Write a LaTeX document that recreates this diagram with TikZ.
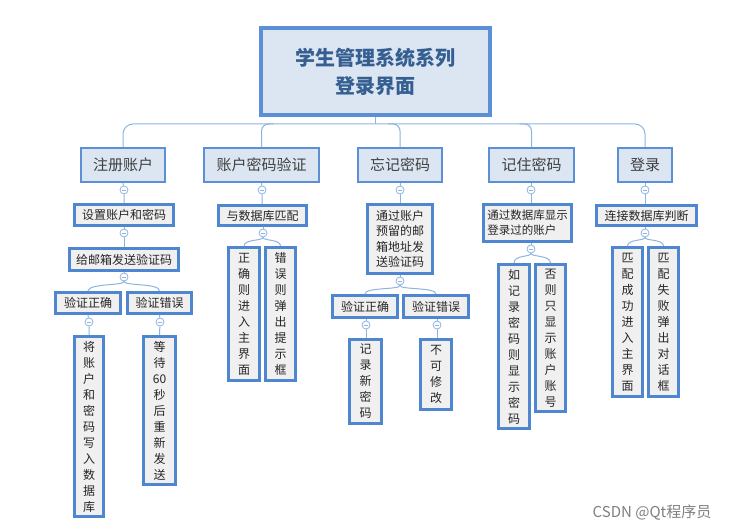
\documentclass[tikz,border=0pt]{standalone}
\usepackage{fontspec}
\setmainfont{Noto Sans CJK SC}
\usetikzlibrary{calc}
\definecolor{bdr}{HTML}{5B8FD6}
\definecolor{lfbdr}{HTML}{4F86D0}
\definecolor{lnk}{HTML}{8DB4E2}
\definecolor{hfill}{HTML}{DCE6F2}
\definecolor{lfill}{HTML}{F0F0F0}
\definecolor{ttext}{HTML}{365F91}
\definecolor{ktext}{HTML}{3F3F3F}
\tikzset{
  titlebox/.style={draw=bdr, line width=4pt, fill=hfill, inner sep=0pt, align=center,
    font=\fontsize{20}{28}\selectfont\bfseries, text=ttext},
  headbox/.style={draw=bdr, line width=2pt, fill=hfill, inner sep=0pt,
    font=\fontsize{15}{18}\selectfont, text=ktext},
  leafbox/.style={draw=lfbdr, line width=3pt, fill=lfill, inner sep=0pt, align=center,
    font=\fontsize{12}{16}\selectfont, text=black!85},
  knob/.style={circle, draw=lnk, line width=0.8pt, fill=white, minimum size=8pt, inner sep=0pt,
    path picture={\draw[lnk, line width=0.7pt] ($(path picture bounding box.center)+(-2.2pt,0)$) -- ($(path picture bounding box.center)+(2.2pt,0)$);}},
  link/.style={draw=lnk, line width=1pt},
}
\begin{document}
\begin{tikzpicture}[x=1pt, y=-1pt]
\useasboundingbox[fill=white] (0,0) rectangle (732,532);
% title
\node[titlebox, minimum width=229pt, minimum height=87pt] (title) at (375.5,71.5) {学生管理系统系列\\登录界面};
% level 1
\node[headbox, minimum width=84pt, minimum height=34pt] (zc) at (123,165) {注册账户};
\node[headbox, minimum width=115pt, minimum height=34pt] (zm) at (261.5,165) {账户密码验证};
\node[headbox, minimum width=84pt, minimum height=34pt] (wj) at (400,165) {忘记密码};
\node[headbox, minimum width=85pt, minimum height=34pt] (jz) at (531.5,165) {记住密码};
\node[headbox, minimum width=54pt, minimum height=34pt] (dl) at (645,165) {登录};
% top connectors
\coordinate (hub) at (375.5,124);
\draw[link] (title.south) -- (hub);
\draw[link, rounded corners=10pt] (zc.north) |- (hub) -| (dl.north);
\draw[link, rounded corners=7pt] (zm.north) |- ($(zm.north)+(12,-23)$);
\draw[link, rounded corners=7pt] (wj.north) |- ($(wj.north)+(-12,-23)$);
\draw[link, rounded corners=7pt] (jz.north) |- ($(jz.north)+(-12,-23)$);
% branch 1
\node[leafbox, minimum width=99pt, minimum height=21pt] (a1) at (124,215) {设置账户和密码};
\node[leafbox, minimum width=109pt, minimum height=22pt] (a2) at (124,259.5) {给邮箱发送验证码};
\node[leafbox, minimum width=65pt, minimum height=21pt] (a3) at (88,303) {验证正确};
\node[leafbox, minimum width=64pt, minimum height=21pt] (a4) at (159.5,303) {验证错误};
\node[leafbox, minimum width=29pt, minimum height=180pt] (a5) at (89,426.5) {将\\账\\户\\和\\密\\码\\写\\入\\数\\据\\库};
\node[leafbox, minimum width=32pt, minimum height=148pt] (a6) at (159.5,410.5) {等\\待\\60\\秒\\后\\重\\新\\发\\送};
\node[knob] (k1) at (124,190) {};
\node[knob] (k2) at (124,233) {};
\node[knob] (k3) at (124,277) {};
\node[knob] (k4) at (89,322) {};
\node[knob] (k5) at (160,322) {};
\draw[link] (zc.south) -- (k1) -- (a1.north);
\draw[link] (a1.south) -- (k2) -- (a2.north);
\draw[link] (a2.south) -- (k3);
\draw[link] (k3.south) .. controls (124,286) and (89,283) .. (a3.north);
\draw[link] (k3.south) .. controls (124,286) and (160,283) .. (a4.north);
\draw[link] (a3.south) -- (k4) -- (a5.north);
\draw[link] (a4.south) -- (k5) -- (a6.north);
% branch 2
\node[leafbox, minimum width=88pt, minimum height=20pt] (b1) at (262.5,215.5) {与数据库匹配};
\node[leafbox, minimum width=31pt, minimum height=133pt] (b2) at (244,314) {正\\确\\则\\进\\入\\主\\界\\面};
\node[leafbox, minimum width=30pt, minimum height=133pt] (b3) at (280.5,314) {错\\误\\则\\弹\\出\\提\\示\\框};
\node[knob] (k6) at (262,190) {};
\node[knob] (k7) at (263,233) {};
\draw[link] (zm.south) -- (k6) -- (b1.north -| k6);
\draw[link] (b1.south -| k7) -- (k7);
\draw[link] (k7.south) .. controls (263,241) and (244,239) .. (b2.north);
\draw[link] (k7.south) .. controls (263,241) and (280.5,239) .. (b3.north);
% branch 3
\node[leafbox, minimum width=65pt, minimum height=69pt, font=\fontsize{12}{15.5}\selectfont] (c1) at (400,239) {通过账户\\预留的邮\\箱地址发\\送验证码};
\node[leafbox, minimum width=65pt, minimum height=22pt] (c2) at (365,306.5) {验证正确};
\node[leafbox, minimum width=65pt, minimum height=22pt] (c3) at (436,306.5) {验证错误};
\node[leafbox, minimum width=32pt, minimum height=84pt] (c4) at (365.5,381.5) {记\\录\\新\\密\\码};
\node[leafbox, minimum width=31pt, minimum height=70pt] (c5) at (436,374.5) {不\\可\\修\\改};
\node[knob] (k8) at (400,190) {};
\node[knob] (k9) at (400,281) {};
\node[knob] (k10) at (366,325) {};
\node[knob] (k11) at (437,325) {};
\draw[link] (wj.south) -- (k8) -- (c1.north);
\draw[link] (c1.south) -- (k9);
\draw[link] (k9.south) .. controls (400,290) and (365,287) .. (c2.north);
\draw[link] (k9.south) .. controls (400,290) and (436,287) .. (c3.north);
\draw[link] (c2.south -| k10) -- (k10) -- (c4.north -| k10);
\draw[link] (c3.south -| k11) -- (k11) -- (c5.north -| k11);
% branch 4
\node[leafbox, minimum width=88pt, minimum height=37pt, align=left, font=\fontsize{11.5}{15}\selectfont] (d1) at (527.5,223) {通过数据库显示\\登录过的账户};
\node[leafbox, minimum width=31pt, minimum height=164pt] (d2) at (514,346.5) {如\\记\\录\\密\\码\\则\\显\\示\\密\\码};
\node[leafbox, minimum width=30pt, minimum height=147pt] (d3) at (550.5,338) {否\\则\\只\\显\\示\\账\\户\\账\\号};
\node[knob] (k12) at (531,190) {};
\node[knob] (k13) at (531,249) {};
\draw[link] (jz.south -| k12) -- (k12) -- (d1.north -| k12);
\draw[link] (d1.south -| k13) -- (k13);
\draw[link] (k13.south) .. controls (531,257) and (514,255) .. (d2.north);
\draw[link] (k13.south) .. controls (531,257) and (550.5,255) .. (d3.north);
% branch 5
\node[leafbox, minimum width=100pt, minimum height=20pt] (e1) at (646.5,215.5) {连接数据库判断};
\node[leafbox, minimum width=30pt, minimum height=149pt] (e2) at (627.5,322) {匹\\配\\成\\功\\进\\入\\主\\界\\面};
\node[leafbox, minimum width=30pt, minimum height=149pt] (e3) at (663.5,322) {匹\\配\\失\\败\\弹\\出\\对\\话\\框};
\node[knob] (k14) at (645,190) {};
\node[knob] (k15) at (645,233) {};
\draw[link] (dl.south) -- (k14) -- (e1.north -| k14);
\draw[link] (e1.south -| k15) -- (k15);
\draw[link] (k15.south) .. controls (645,241) and (627.5,239) .. (e2.north);
\draw[link] (k15.south) .. controls (645,241) and (663.5,239) .. (e3.north);
% watermark
\node[text=black!50, font=\fontsize{15}{17}\selectfont, inner sep=0pt] (wm) at (652,513) {CSDN @Qt程序员};
\end{tikzpicture}
\end{document}
